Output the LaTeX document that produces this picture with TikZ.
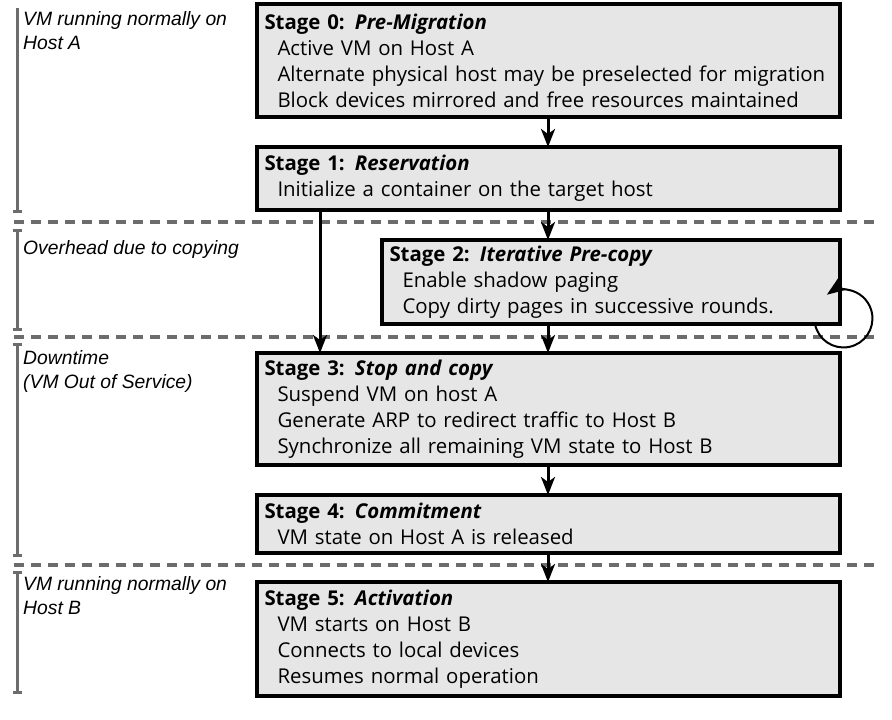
\documentclass[tikz,border=0pt]{standalone}
\usepackage{fontspec}
\setmainfont{Open Sans}
\newfontfamily\notefont{Liberation Sans}
\usetikzlibrary{arrows.meta,positioning}
\definecolor{boxgray}{RGB}{230,230,230}
\definecolor{linegray}{RGB}{108,108,108}
\newcommand{\bodyline}[1]{\\\hspace*{13pt}#1}
\tikzset{
  stage/.style = {draw=black, fill=boxgray, line width=4pt, rectangle, anchor=north west, align=left, inner xsep=7.5pt, inner ysep=0pt, outer sep=0pt, font=\fontsize{20.4}{26}\selectfont},
  wide/.style = {stage, text width=568pt},
  narrow/.style = {stage, text width=443pt},
  note/.style = {anchor=north west, align=left, inner sep=0pt, font=\notefont\itshape\fontsize{19.3}{24}\selectfont},
  arrow/.style = {line width=3pt, -{Stealth[length=18pt,width=14pt,inset=5pt]}},
  rounds/.style = {line width=2pt, -{Stealth[length=20pt,width=15pt,inset=6pt]}},
  phase/.style = {draw=linegray, line width=3pt},
  cut/.style = {draw=linegray, line width=3.5pt, dash pattern=on 10pt off 7pt}
}
\begin{document}
\begin{tikzpicture}[x=1pt,y=1pt]
            \useasboundingbox (0,0) rectangle (892,-720);
            \draw[phase, -{Bar[width=9pt]}] (17,-8) -- (17,-213);
            \foreach \ya/\yb in {229/331, 343/557, 571/694}
              \draw[phase, {Bar[width=9pt]}-{Bar[width=9pt]}] (17,-\ya) -- (17,-\yb);
            \foreach \y in {222, 337, 565}
              \draw[cut] (14,-\y) -- (876,-\y);
            \node[note] (n0) at (23,-11) {VM running normally on\\Host A};
            \node[note] (n1) at (23,-240) {Overhead due to copying};
            \node[note] (n2) at (23,-350) {Downtime\\(VM Out of Service)};
            \node[note] (n3) at (23,-576) {VM running normally on\\Host B};
            \node[wide, minimum height=113pt] (s0) at (257,-4) {\textbf{Stage 0: \textit{Pre-Migration}}\bodyline{Active VM on Host A}\bodyline{Alternate physical host may be preselected for migration}\bodyline{Block devices mirrored and free resources maintained}};
            \node[wide, minimum height=63pt, below=30pt of s0.south west, anchor=north west] (s1) {\textbf{Stage 1: \textit{Reservation}}\bodyline{Initialize a container on the target host}};
            \node[narrow, minimum height=84pt, below right=30pt and 125pt of s1.south west, anchor=north west] (s2) {\textbf{Stage 2: \textit{Iterative Pre-copy}}\bodyline{Enable shadow paging}\bodyline{Copy dirty pages in successive rounds.}};
            \node[wide, minimum height=112pt, below left=29pt and 125pt of s2.south west, anchor=north west] (s3) {\textbf{Stage 3: \textit{Stop and copy}}\bodyline{Suspend VM on host A}\bodyline{Generate ARP to redirect traffic to Host B}\bodyline{Synchronize all remaining VM state to Host B}};
            \node[wide, minimum height=58pt, below=30pt of s3.south west, anchor=north west] (s4) {\textbf{Stage 4: \textit{Commitment}}\bodyline{VM state on Host A is released}};
            \node[wide, minimum height=114pt, below=29pt of s4.south west, anchor=north west] (s5) {\textbf{Stage 5: \textit{Activation}}\bodyline{VM starts on Host B}\bodyline{Connects to local devices}\bodyline{Resumes normal operation}};
            \coordinate (col) at (548,0);
            \coordinate (skip) at (320,0);
            \draw[arrow] (col |- s0.south) -- (col |- s1.north);
            \draw[arrow] (col |- s1.south) -- (col |- s2.north);
            \draw[arrow] (col |- s2.south) -- (col |- s3.north);
            \draw[arrow] (col |- s3.south) -- (col |- s4.north);
            \draw[arrow] (col |- s4.south) -- (col |- s5.north);
            \draw[arrow] (skip |- s1.south) -- (skip |- s3.north);
            \draw[rounds] ([xshift=-25pt]s2.south east) arc[start angle=191, end angle=485, radius=29pt];
        \end{tikzpicture}
\end{document}
